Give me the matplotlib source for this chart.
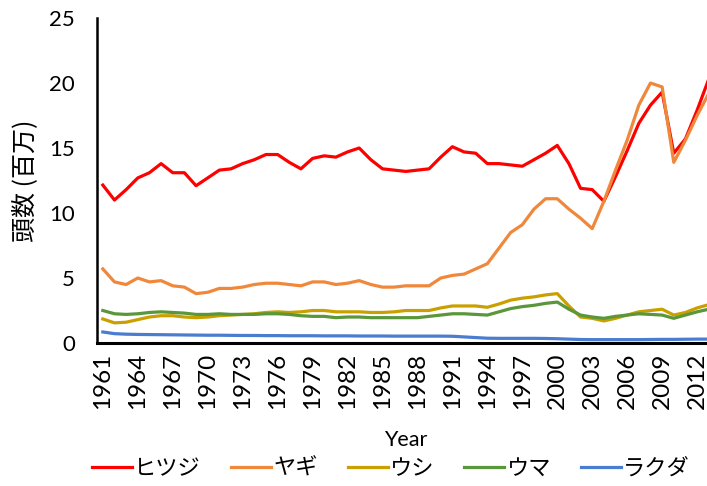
import matplotlib
matplotlib.use("Agg")
import matplotlib.pyplot as plt
import numpy as np

plt.rcParams["font.family"] = ["Lato", "Noto Sans CJK JP", "DejaVu Sans"]

years = np.arange(1961, 2014)

# livestock numbers (millions)
sheep = [12.15, 11.0, 11.8, 12.7, 13.1, 13.8, 13.1, 13.1, 12.1, 12.7,
         13.3, 13.4, 13.8, 14.1, 14.5, 14.5, 13.9, 13.4, 14.2, 14.4,
         14.3, 14.7, 15.0, 14.1, 13.4, 13.3, 13.2, 13.3, 13.4, 14.3,
         15.1, 14.7, 14.6, 13.8, 13.8, 13.7, 13.6, 14.1, 14.6, 15.2,
         13.8, 11.9, 11.8, 10.9, 12.8, 14.8, 16.9, 18.3, 19.3, 14.6,
         15.7, 17.9, 20.3]
goats = [5.7, 4.7, 4.5, 5.0, 4.7, 4.8, 4.4, 4.3, 3.8, 3.9,
         4.2, 4.2, 4.3, 4.5, 4.6, 4.6, 4.5, 4.4, 4.7, 4.7,
         4.5, 4.6, 4.8, 4.5, 4.3, 4.3, 4.4, 4.4, 4.4, 5.0,
         5.2, 5.3, 5.7, 6.1, 7.3, 8.5, 9.1, 10.3, 11.1, 11.1,
         10.3, 9.6, 8.8, 10.9, 13.3, 15.6, 18.3, 20.0, 19.7, 13.9,
         15.6, 17.5, 19.2]
cattle = [1.85, 1.55, 1.6, 1.8, 2.0, 2.1, 2.1, 2.0, 1.95, 2.0,
          2.1, 2.15, 2.2, 2.25, 2.35, 2.4, 2.35, 2.4, 2.5, 2.5,
          2.4, 2.4, 2.4, 2.35, 2.35, 2.4, 2.5, 2.5, 2.5, 2.7,
          2.85, 2.85, 2.85, 2.75, 3.0, 3.3, 3.45, 3.55, 3.7, 3.8,
          2.85, 2.0, 1.9, 1.7, 1.9, 2.15, 2.4, 2.5, 2.6, 2.15,
          2.35, 2.7, 2.95]
horses = [2.5, 2.25, 2.2, 2.25, 2.35, 2.4, 2.35, 2.3, 2.2, 2.2,
          2.25, 2.2, 2.2, 2.2, 2.25, 2.25, 2.2, 2.1, 2.05, 2.05,
          1.95, 2.0, 2.0, 1.95, 1.95, 1.95, 1.95, 1.95, 2.05, 2.15,
          2.25, 2.25, 2.2, 2.15, 2.4, 2.65, 2.8, 2.9, 3.05, 3.15,
          2.6, 2.15, 2.0, 1.9, 2.05, 2.15, 2.25, 2.2, 2.15, 1.9,
          2.15, 2.4, 2.6]
camels = [0.85, 0.72, 0.68, 0.66, 0.65, 0.64, 0.63, 0.62, 0.61, 0.6,
          0.6, 0.59, 0.58, 0.58, 0.57, 0.57, 0.56, 0.56, 0.56, 0.55,
          0.55, 0.55, 0.54, 0.54, 0.54, 0.53, 0.53, 0.53, 0.53, 0.53,
          0.52, 0.47, 0.42, 0.37, 0.36, 0.36, 0.36, 0.36, 0.35, 0.33,
          0.3, 0.27, 0.26, 0.26, 0.26, 0.26, 0.26, 0.27, 0.28, 0.28,
          0.29, 0.3, 0.3]

labels = ["ヒツジ", "ヤギ", "ウシ", "ウマ", "ラクダ"]
colors = ["#ff0000", "#f0883c", "#c9a000", "#5a963a", "#4a7cd0"]
series = [sheep, goats, cattle, horses, camels]

fig = plt.figure(figsize=(7.07, 4.86), dpi=100)
# plot area runs past the right edge of the picture, as in the original
ax = fig.add_axes([0.1372, 0.2942, 0.8735, 0.6687])

for vals, lab, col in zip(series, labels, colors):
    ax.plot(years, vals, color=col, lw=2.3, label=lab, solid_joinstyle="round")

ax.set_xlim(1960.5, 2013.5)
ax.set_ylim(0, 25)
ax.set_yticks(np.arange(0, 26, 5))
ax.set_xticks(years[::3])
ax.set_xticklabels([str(y) for y in years[::3]], rotation=90)
ax.tick_params(axis="both", length=0)
ax.tick_params(axis="y", pad=16, labelsize=16)
ax.tick_params(axis="x", pad=7, labelsize=17.5)

for s in ["top", "right"]:
    ax.spines[s].set_visible(False)
ax.spines["left"].set_linewidth(1.8)
ax.spines["bottom"].set_linewidth(2.2)

ax.set_xlabel("Year", fontsize=15.5, labelpad=15)
ax.set_ylabel("頭数 (百万)", fontsize=18, labelpad=8,
              family=["Noto Sans CJK JP", "DejaVu Sans"])

fig.legend(loc="center", bbox_to_anchor=(0.553, 0.036), ncol=5, frameon=False,
           handlelength=1.8, handletextpad=0.1, columnspacing=1.35,
           prop={"family": ["Noto Sans CJK JP", "DejaVu Sans"], "size": 16})

fig.savefig("out.png", dpi=100)
